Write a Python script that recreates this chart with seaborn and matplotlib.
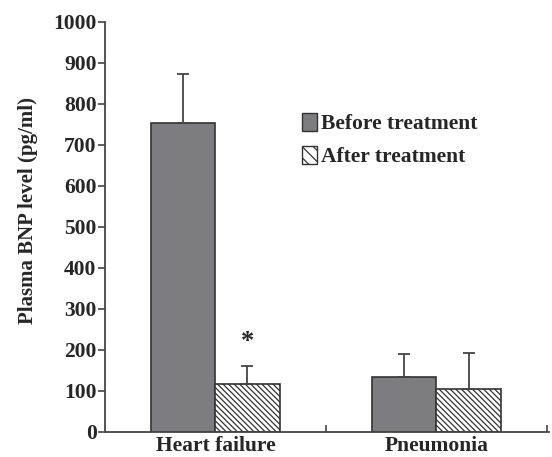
import numpy as np
import pandas as pd
import matplotlib
matplotlib.use("Agg")
import matplotlib.pyplot as plt
import seaborn as sns
from matplotlib.patches import Patch

# plasma BNP before / after treatment
groups = ["Heart failure", "Pneumonia"]
conditions = ["Before treatment", "After treatment"]
before_mean = [753, 135]
after_mean = [116, 104]
before_sd = [120, 55]
after_sd = [45, 88]

df = pd.DataFrame({
    "group": groups * 2,
    "condition": [conditions[0]] * 2 + [conditions[1]] * 2,
    "bnp": before_mean + after_mean,
    "sd": before_sd + after_sd,
})

sns.set_style("ticks")
plt.rcParams["font.family"] = ["Liberation Serif", "DejaVu Serif"]
plt.rcParams["font.weight"] = "bold"
plt.rcParams["hatch.linewidth"] = 0.9
plt.rcParams["hatch.color"] = "#222222"

fig = plt.figure(figsize=(5.52, 4.57), dpi=100)
ax = fig.add_axes([0.190, 0.055, 0.805, 0.897])

sns.barplot(data=df, x="group", y="bnp", hue="condition", order=groups,
            hue_order=conditions, palette=["#7d7d80", "white"],
            width=0.58, gap=0, edgecolor="#333333", linewidth=1.2,
            errorbar=None, legend=False, ax=ax)

# second hue gets hatching, then one-sided error bars from each bar top
n = len(groups)
for i, bar in enumerate(ax.patches[:2 * n]):
    if i >= n:
        bar.set_hatch("\\" * 6)
    xc = bar.get_x() + bar.get_width() / 2
    h = bar.get_height()
    ax.errorbar(xc, h, yerr=[[0], [df["sd"].iloc[i]]], fmt="none",
                ecolor="#444444", elinewidth=1.3, capsize=4, capthick=1.3)

# significance mark over heart failure, after treatment
hf_after = ax.patches[n]
ax.text(hf_after.get_x() + hf_after.get_width() / 2, 220, "*",
        ha="center", va="center", fontsize=19, fontweight="bold")

ax.set_ylim(0, 1000)
ax.set_xlim(-0.5, 1.51)
ax.set_yticks(np.arange(0, 1001, 100))
ax.set_xlabel("")
ax.set_ylabel("Plasma BNP level (pg/ml)", fontsize=15, fontweight="bold")
ax.yaxis.set_label_coords(-0.15, 0.54)
ax.tick_params(axis="y", labelsize=15.5, length=5, width=1.2,
               color="#444444", pad=1)
ax.tick_params(axis="x", labelsize=15.5, length=0, pad=3)
ax.set_xticks([0.5, 1.5], minor=True)
ax.tick_params(axis="x", which="minor", direction="in", length=5,
               width=1.2, color="#444444")
for lab in ax.get_xticklabels() + ax.get_yticklabels():
    lab.set_fontweight("bold")

sns.despine(ax=ax)
for side in ["left", "bottom"]:
    ax.spines[side].set_linewidth(1.3)
    ax.spines[side].set_color("#444444")

handles = [Patch(facecolor="#7d7d80", edgecolor="#333333", label=conditions[0]),
           Patch(facecolor="white", edgecolor="#333333", hatch="\\\\\\",
                 label=conditions[1])]
ax.legend(handles=handles, loc="upper left", bbox_to_anchor=(0.42, 0.805),
          frameon=False, borderpad=0, handlelength=0.7, handleheight=0.9,
          handletextpad=0.15, labelspacing=0.55,
          prop={"weight": "bold", "size": 15.5})

fig.savefig("out.png", dpi=100)
